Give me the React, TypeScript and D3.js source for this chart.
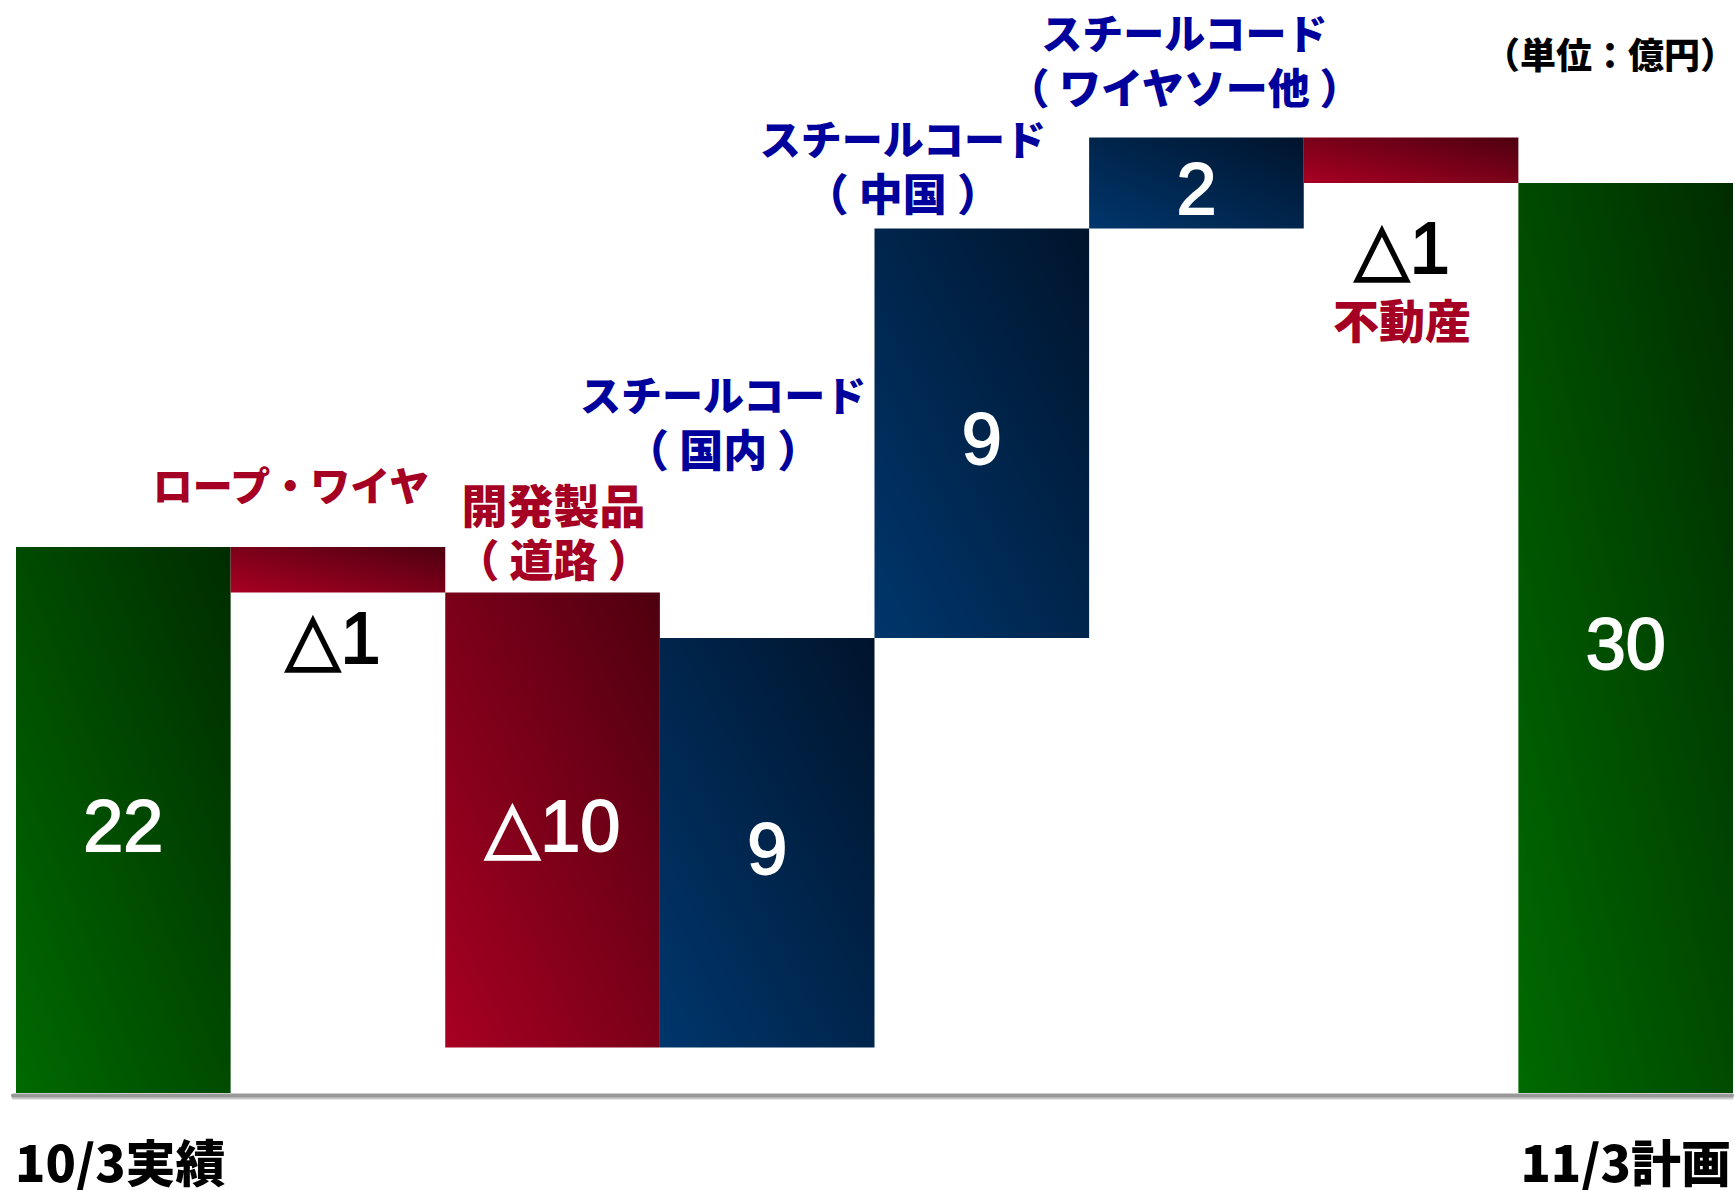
import React from 'react';
import * as d3 from 'd3';

// Waterfall: 10/3 actual -> 11/3 plan (単位：億円)
const categories = ['10/3実績', 'ロープ・ワイヤ', '開発製品', '国内', '中国', 'ワイヤソー他', '不動産', '11/3計画'];
const deltas = [22, -1, -10, 9, 9, 2, -1, 30];
const kinds = ['total', 'delta', 'delta', 'delta', 'delta', 'delta', 'delta', 'total'];
const valueLabels = ['22', '△1', '△10', '9', '9', '2', '△1', '30'];
const nameLines = [
  [],
  ['ロープ・ワイヤ'],
  ['開発製品', '（ 道路 ）'],
  ['スチールコード', '（ 国内 ）'],
  ['スチールコード', '（ 中国 ）'],
  ['スチールコード', '（ ワイヤソー他 ）'],
  ['不動産'],
  [],
];
const axisLabels = ['10/3実績', '11/3計画'];
const unitLabel = '（単位：億円）';
const yDomain = [10, 31];

// label layout (offsets from bar centre / edges), font size per line
const nameLayout = [
  null,
  { dx: -47, ref: 'top', dy: -63, sizes: [40] },
  { dx: 1, ref: 'top', dy: -90, sizes: [46, 44] },
  { dx: -44, ref: 'top', dy: -245, sizes: [41, 44] },
  { dx: -79, ref: 'top', dy: -92, sizes: [41, 44] },
  { dx: -12, ref: 'top', dy: -107, sizes: [41, 42] },
  { dx: -9, ref: 'bottom', dy: 135, sizes: [46] },
  null,
];
const outsideValueLayout: Record<number, { dx: number; dy: number }> = {
  1: { dx: -5, dy: 70 },
  6: { dx: -9, dy: 90 },
};

const W = 1735;
const H = 1190;
const JP = "'Noto Sans CJK JP', 'Noto Sans', sans-serif";
const NUM = "'Liberation Sans', 'DejaVu Sans', Arial, sans-serif";

export default function App() {
  const x = d3.scaleBand<string>().domain(categories).range([16, 1733]).padding(0);
  const y = d3.scaleLinear().domain(yDomain).range([1093, 137.5]);

  // running totals
  let run = 0;
  const bars = deltas.map((d, i) => {
    let lo: number, hi: number;
    if (kinds[i] === 'total') {
      lo = yDomain[0];
      hi = d;
      run = d;
    } else {
      const next = run + d;
      lo = Math.min(run, next);
      hi = Math.max(run, next);
      run = next;
    }
    const fill = kinds[i] === 'total' ? 'url(#gGreen)' : d < 0 ? 'url(#gRed)' : 'url(#gBlue)';
    return { i, cat: categories[i], lo, hi, d, fill };
  });

  return (
    <svg width={W} height={H} style={{ position: 'absolute', left: 0, top: 0, background: '#fff' }}>
      <defs>
        <linearGradient id="gGreen" x1="0" y1="1" x2="1" y2="0">
          <stop offset="0" stopColor="#006a00" />
          <stop offset="1" stopColor="#002c00" />
        </linearGradient>
        <linearGradient id="gRed" x1="0" y1="1" x2="1" y2="0">
          <stop offset="0" stopColor="#a80022" />
          <stop offset="1" stopColor="#4e0010" />
        </linearGradient>
        <linearGradient id="gBlue" x1="0" y1="1" x2="1" y2="0">
          <stop offset="0" stopColor="#00366c" />
          <stop offset="1" stopColor="#00142c" />
        </linearGradient>
      </defs>

      {bars.map(b => (
        <rect
          key={b.cat}
          x={x(b.cat)}
          y={y(b.hi)}
          width={x.bandwidth()}
          height={y(b.lo) - y(b.hi)}
          fill={b.fill}
        />
      ))}

      {/* baseline */}
      <line x1={13} x2={1732} y1={y(yDomain[0]) + 5} y2={y(yDomain[0]) + 5} stroke="#cccccc" strokeWidth={3} strokeLinecap="round" />
      <line x1={13} x2={1732} y1={y(yDomain[0]) + 2.5} y2={y(yDomain[0]) + 2.5} stroke="#999999" strokeWidth={4} strokeLinecap="round" />

      {/* value labels */}
      {bars.map(b => {
        const cx = (x(b.cat) as number) + x.bandwidth() / 2;
        const out = outsideValueLayout[b.i];
        if (out) {
          return (
            <text key={'v' + b.i} x={cx + out.dx} y={y(b.lo) + out.dy} textAnchor="middle"
              fontFamily={NUM} fontSize={72} fill="#000" stroke="#000" strokeWidth={1.8}>
              {valueLabels[b.i]}
            </text>
          );
        }
        const mid = (y(b.lo) + y(b.hi)) / 2;
        return (
          <text key={'v' + b.i} x={cx} y={mid + 31} textAnchor="middle"
            fontFamily={NUM} fontSize={72} fill="#fff" stroke="#fff" strokeWidth={1.8}>
            {valueLabels[b.i]}
          </text>
        );
      })}

      {/* category name labels */}
      {bars.map(b => {
        const lay = nameLayout[b.i];
        if (!lay) return null;
        const cx = (x(b.cat) as number) + x.bandwidth() / 2 + lay.dx;
        const base = lay.ref === 'top' ? y(b.hi) : y(b.lo);
        const color = b.d < 0 ? '#a50024' : '#00009c';
        return (
          <text key={'n' + b.i} textAnchor="middle" fontFamily={JP} fontWeight={900} fill={color}>
            {nameLines[b.i].map((t, j) => (
              <tspan key={j} x={cx} y={base + lay.dy + j * 55} fontSize={lay.sizes[j]}
                dominantBaseline="central" style={{ whiteSpace: 'pre' }}>{t}</tspan>
            ))}
          </text>
        );
      })}

      {/* unit */}
      <text x={1736} y={53} textAnchor="end" dominantBaseline="central" fontFamily={JP} fontWeight={900} fontSize={36} fill="#000" style={{ whiteSpace: 'pre' }}>
        {unitLabel}
      </text>

      {/* x-axis end labels */}
      <text x={15} y={1160} dominantBaseline="central" fontFamily={JP} fontWeight={900} fontSize={50} fill="#000">
        {axisLabels[0]}
      </text>
      <text x={1731} y={1160} textAnchor="end" dominantBaseline="central" fontFamily={JP} fontWeight={900} fontSize={50} fill="#000">
        {axisLabels[1]}
      </text>
    </svg>
  );
}
